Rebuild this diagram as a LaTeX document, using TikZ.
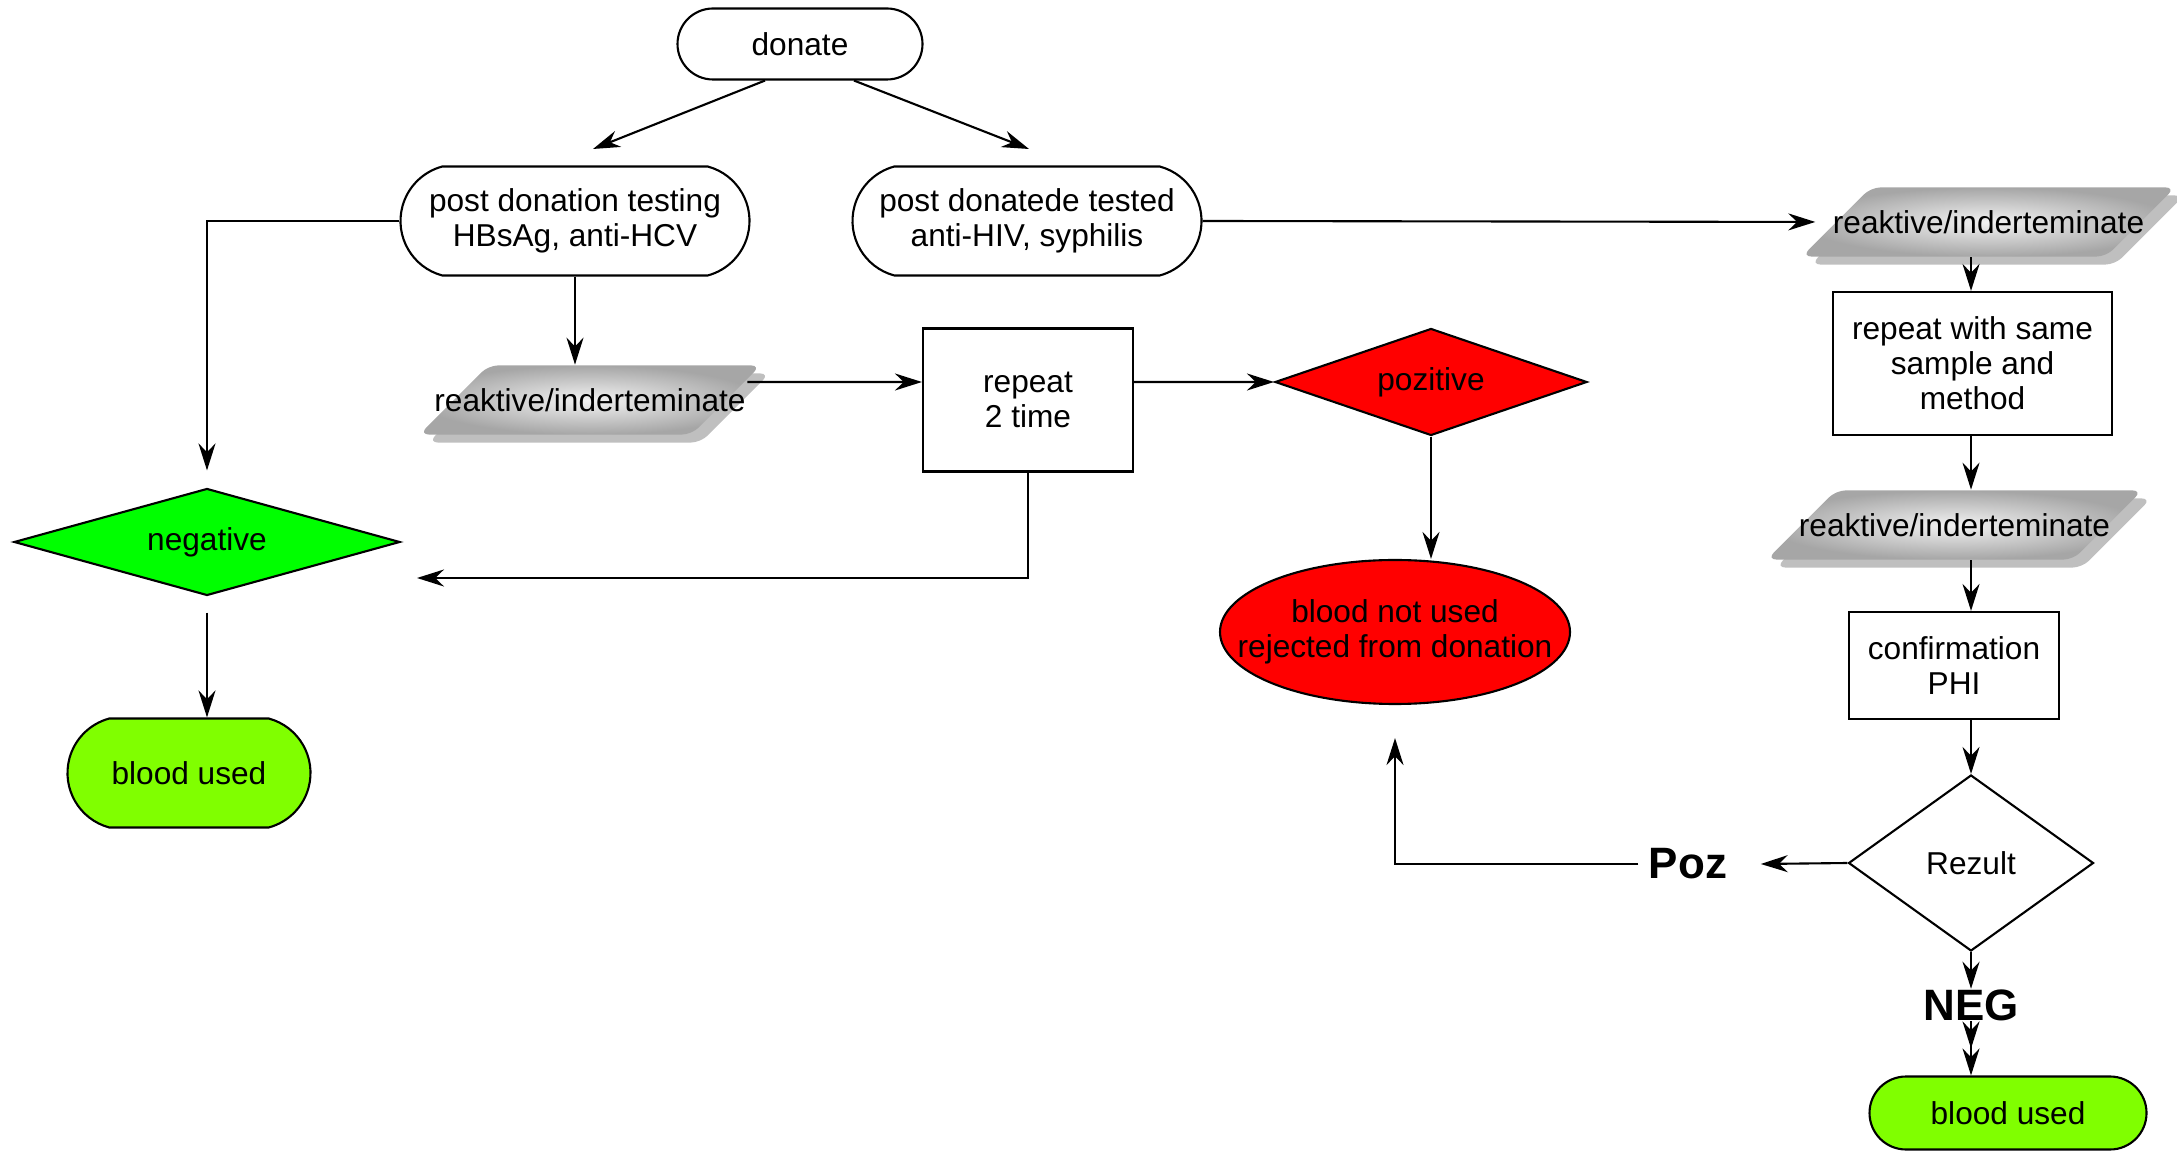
\documentclass[tikz,border=0pt]{standalone}
\usepackage{fontspec}
\setmainfont{Liberation Sans}
\usetikzlibrary{shapes.geometric,shapes.misc,shadows,arrows.meta}

\definecolor{neggreen}{HTML}{00FF00}
\definecolor{usedgreen}{HTML}{80FF00}

\tikzset{
    every node/.style={font=\fontsize{9}{10}\selectfont, align=center},
    line/.style={draw, line width=0.6pt},
    arr/.style={line, -{Stealth[length=2.7mm,width=1.7mm]}},
    dblarr/.style={line, -{Stealth[length=2.7mm,width=1.7mm] Stealth[length=2.7mm,width=1.7mm]}},
    terminal/.style={rounded rectangle, draw, line width=0.6pt, inner xsep=-0.3cm, inner ysep=0pt},
    process/.style={rectangle, draw, line width=0.6pt},
    decision/.style={diamond, draw, line width=0.6pt, inner sep=0pt},
    result/.style={trapezium, trapezium left angle=45, trapezium right angle=135, rounded corners=1mm, inner ysep=0.23cm,
        shade, inner color=gray!10, outer color=gray!70,
        drop shadow={shadow xshift=0.9mm, shadow yshift=-0.8mm, fill=black!25, opacity=1}},
    biglabel/.style={font=\fontsize{12.5}{14}\selectfont\bfseries, inner sep=1mm}
}

\begin{document}
\begin{tikzpicture}
    \useasboundingbox (0,0) rectangle (21.77,-11.53);

    \node[terminal, minimum width=1.85cm, minimum height=0.71cm] (donate) at (8.00,-0.44) {donate};
    \node[terminal, rounded rectangle arc length=150, minimum width=2.89cm, minimum height=1.09cm] (pdt) at (5.75,-2.21) {post donation testing\\HBsAg, anti-HCV};
    \node[terminal, rounded rectangle arc length=150, minimum width=2.89cm, minimum height=1.09cm] (pdd) at (10.27,-2.21) {post donatede tested\\anti-HIV, syphilis};

    \node[result, inner xsep=-0.54cm] (rk1) at (5.90,-4.00) {reaktive/inderteminate};
    \node[process, minimum width=2.10cm, minimum height=1.43cm] (rep) at (10.28,-4.00) {repeat\\2 time};
    \node[decision, fill=red, aspect=2.9, minimum width=3.12cm, minimum height=1.07cm] (poz) at (14.31,-3.82) {pozitive};
    \node[decision, fill=neggreen, aspect=3.6, minimum width=3.86cm, minimum height=1.07cm] (neg) at (2.07,-5.42) {negative};
    \node[terminal, fill=usedgreen, rounded rectangle arc length=150, minimum width=1.83cm, minimum height=1.09cm] (used1) at (1.89,-7.73) {blood used};
    \node[ellipse, draw, line width=0.6pt, fill=red, inner xsep=-0.4cm, minimum width=3.50cm, minimum height=1.44cm] (notused) at (13.95,-6.32) {blood not used\\rejected from donation};

    \node[result, inner xsep=-0.38cm] (rk2) at (19.885,-2.22) {reaktive/inderteminate};
    \node[process, minimum width=2.79cm, minimum height=1.43cm] (same) at (19.725,-3.635) {repeat with same\\sample and\\method};
    \node[result, inner xsep=-0.37cm] (rk3) at (19.545,-5.25) {reaktive/inderteminate};
    \node[process, minimum width=2.10cm, minimum height=1.07cm] (conf) at (19.54,-6.655) {confirmation\\PHI};
    \node[decision, aspect=1.4, minimum width=2.45cm, minimum height=1.76cm] (rez) at (19.71,-8.63) {Rezult};
    \node[biglabel] (pozlbl) at (16.88,-8.64) {Poz};
    \node[biglabel] (neglbl) at (19.71,-10.05) {NEG};
    \node[terminal, fill=usedgreen, minimum width=2.17cm, minimum height=0.73cm] (used2) at (20.08,-11.13) {blood used};

    \coordinate (lt) at (5.93,-1.49);
    \coordinate (rt) at (10.29,-1.49);
    \coordinate (back) at (4.17,-5.78);

    \draw[arr] ([xshift=-3.5mm]donate.south) -- (lt);
    \draw[arr] ([xshift=5.4mm]donate.south) -- (rt);
    \draw[arr, shorten >=1.7mm] (pdt.west) -| (neg.north);
    \draw[arr] (pdt.south) -- (pdt.south |- rk1.north);
    \draw[arr] ([xshift=2mm,yshift=1.8mm]rk1.east) -- ([yshift=1.8mm]rep.west);
    \draw[arr] ([yshift=1.8mm]rep.east) -- (poz.west);
    \draw[arr] (rep.south) |- (back);
    \draw[arr] (poz.south) -- (poz.south |- notused.north);
    \draw[arr, shorten <=1.6mm] (neg.south) -- (neg.south |- used1.north);
    \draw[arr, shorten >=2mm] (pdd.east) -- (rk2.west);

    \draw[arr] (rk2.south -| rez.north) -- (same.north -| rez.north);
    \draw[arr] (same.south -| rez.north) -- (rk3.north -| rez.north);
    \draw[arr] (rk3.south -| rez.north) -- (conf.north -| rez.north);
    \draw[arr] (conf.south -| rez.north) -- (rez.north);
    \draw[arr] (rez.west) -- ([xshift=2.3mm]pozlbl.east);
    \draw[arr] (pozlbl.west) -| ([yshift=-3.3mm]notused.south);
    \draw[arr] (rez.south) -- ([yshift=-1mm]neglbl.north);
    \draw[dblarr] ([yshift=1mm]neglbl.south) -- (neglbl.south |- used2.north);
\end{tikzpicture}
\end{document}
